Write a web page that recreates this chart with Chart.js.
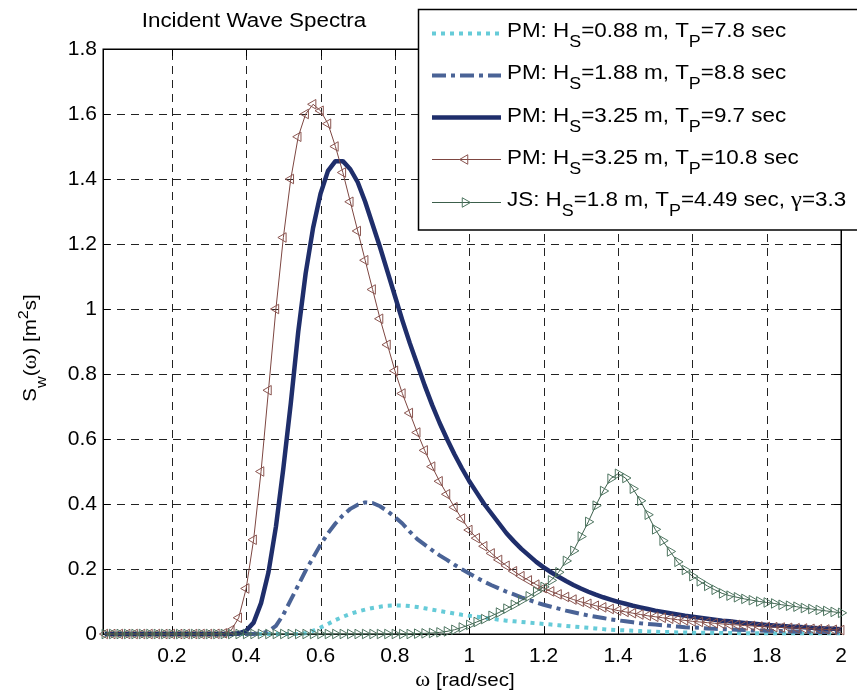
<!DOCTYPE html>
<html><head><meta charset="utf-8">
<script src="https://cdn.jsdelivr.net/npm/chart.js@4.4.1/dist/chart.umd.min.js"></script>
<style>html,body{margin:0;padding:0;background:#fff;}canvas{display:block;}</style>
</head><body>
<canvas id="c" width="857" height="700"></canvas>
<script>
// ---------- data ----------
const omega = [
 0.02,0.04,0.06,0.08,0.10,0.12,0.14,0.16,0.18,0.20,
 0.22,0.24,0.26,0.28,0.30,0.32,0.34,0.36,0.38,0.40,
 0.42,0.44,0.46,0.48,0.50,0.52,0.54,0.56,0.58,0.60,
 0.62,0.64,0.66,0.68,0.70,0.72,0.74,0.76,0.78,0.80,
 0.82,0.84,0.86,0.88,0.90,0.92,0.94,0.96,0.98,1.00,
 1.02,1.04,1.06,1.08,1.10,1.12,1.14,1.16,1.18,1.20,
 1.22,1.24,1.26,1.28,1.30,1.32,1.34,1.36,1.38,1.40,
 1.42,1.44,1.46,1.48,1.50,1.52,1.54,1.56,1.58,1.60,
 1.62,1.64,1.66,1.68,1.70,1.72,1.74,1.76,1.78,1.80,
 1.82,1.84,1.86,1.88,1.90,1.92,1.94,1.96,1.98,2.00];

const pmHs088 = [
 0,0,0,0,0,0,0,0,0,0,
 0,0,0,0,0,0,0,0,0,0,
 0,0,0,0,0,0,0,0.002,0.01,0.02,
 0.031,0.043,0.053,0.062,0.069,0.075,0.08,0.084,0.087,0.088,
 0.088,0.086,0.083,0.079,0.075,0.071,0.067,0.063,0.059,0.056,
 0.053,0.05,0.047,0.044,0.041,0.039,0.037,0.035,0.033,0.031,
 0.029,0.027,0.025,0.023,0.021,0.019,0.017,0.015,0.013,0.012,
 0.011,0.01,0.009,0.008,0.007,0.006,0.006,0.005,0.005,0.004,
 0.004,0.004,0.003,0.003,0.003,0.003,0.002,0.002,0.002,0.002,
 0.002,0.002,0.002,0.002,0.002,0.002,0.002,0.002,0.002,0.002];

const pmHs188 = [
 0,0,0,0,0,0,0,0,0,0,
 0,0,0,0,0,0,0,0,0,0,
 0,0.002,0.008,0.025,0.06,0.105,0.15,0.195,0.235,0.275,
 0.31,0.34,0.365,0.385,0.398,0.405,0.403,0.393,0.378,0.36,
 0.34,0.315,0.292,0.275,0.258,0.242,0.228,0.213,0.199,0.186,
 0.173,0.161,0.15,0.14,0.13,0.122,0.113,0.105,0.097,0.09,
 0.084,0.078,0.072,0.067,0.062,0.057,0.053,0.049,0.045,0.042,
 0.039,0.036,0.033,0.031,0.029,0.027,0.025,0.023,0.021,0.02,
 0.019,0.017,0.016,0.015,0.014,0.013,0.012,0.011,0.011,0.01,
 0.009,0.009,0.008,0.008,0.007,0.007,0.006,0.006,0.005,0.005];

const pmHs325Tp97 = [
 0,0,0,0,0,0,0,0,0,0,
 0,0,0,0,0,0,0,0,0.002,0.01,
 0.035,0.095,0.19,0.33,0.51,0.71,0.93,1.11,1.25,1.355,
 1.425,1.455,1.455,1.43,1.39,1.33,1.26,1.19,1.115,1.04,
 0.965,0.895,0.83,0.765,0.705,0.65,0.6,0.553,0.51,0.47,
 0.435,0.4,0.37,0.34,0.31,0.285,0.262,0.242,0.222,0.205,
 0.19,0.176,0.163,0.151,0.14,0.13,0.121,0.113,0.106,0.099,
 0.093,0.087,0.082,0.077,0.072,0.068,0.064,0.06,0.056,0.053,
 0.05,0.047,0.044,0.041,0.039,0.036,0.034,0.032,0.03,0.028,
 0.026,0.025,0.023,0.022,0.021,0.019,0.018,0.017,0.016,0.015];

const pmHs325Tp108 = [
 0,0,0,0,0,0,0,0,0,0,
 0,0,0,0,0,0.0005,0.002,0.012,0.05,0.14,
 0.29,0.5,0.75,1.0,1.22,1.4,1.53,1.6,1.63,1.61,
 1.57,1.5,1.42,1.33,1.24,1.15,1.06,0.97,0.89,0.81,
 0.74,0.68,0.62,0.565,0.515,0.47,0.43,0.39,0.355,0.32,
 0.295,0.27,0.248,0.228,0.21,0.193,0.178,0.165,0.152,0.141,
 0.131,0.122,0.114,0.106,0.099,0.093,0.087,0.082,0.077,0.072,
 0.068,0.064,0.06,0.056,0.053,0.05,0.047,0.044,0.042,0.039,
 0.037,0.035,0.033,0.031,0.029,0.028,0.026,0.025,0.023,0.022,
 0.021,0.02,0.019,0.018,0.017,0.016,0.015,0.014,0.013,0.012];

const jsHs18 = [
 0,0,0,0,0,0,0,0,0,0,
 0,0,0,0,0,0,0,0,0,0,
 0,0,0,0,0,0,0,0,0,0,
 0,0,0,0,0,0,0,0,0,0,
 0,0,0.001,0.002,0.003,0.005,0.008,0.013,0.02,0.028,
 0.037,0.046,0.056,0.066,0.078,0.09,0.103,0.116,0.13,0.145,
 0.165,0.19,0.225,0.256,0.3,0.345,0.395,0.44,0.478,0.493,
 0.48,0.447,0.41,0.367,0.322,0.287,0.254,0.222,0.197,0.178,
 0.162,0.148,0.136,0.125,0.118,0.113,0.108,0.104,0.1,0.097,
 0.094,0.09,0.087,0.084,0.08,0.077,0.074,0.071,0.068,0.065];

const seriesLabels = [
 'PM: H_S=0.88 m, T_P=7.8 sec',
 'PM: H_S=1.88 m, T_P=8.8 sec',
 'PM: H_S=3.25 m, T_P=9.7 sec',
 'PM: H_S=3.25 m, T_P=10.8 sec',
 'JS: H_S=1.8 m, T_P=4.49 sec, γ=3.3'];

const xTickVals = [0.2,0.4,0.6,0.8,1,1.2,1.4,1.6,1.8,2];
const xTickLabels = ['0.2','0.4','0.6','0.8','1','1.2','1.4','1.6','1.8','2'];
const yTickVals = [0,0.2,0.4,0.6,0.8,1,1.2,1.4,1.6,1.8];
const yTickLabels = ['0','0.2','0.4','0.6','0.8','1','1.2','1.4','1.6','1.8'];

const chartTitle = 'Incident Wave Spectra';
const xTitle = 'ω [rad/sec]';
const yTitle = 'S_w(ω) [m^2s]';

// ---------- styles ----------
const SANS = "'Liberation Sans', Arial, sans-serif";
const SERIF = "'Liberation Serif', 'Times New Roman', serif";
const styles = [
 {color:'#66cbd8', width:4, dash:[4,5]},
 {color:'#4a6396', width:4, dash:[14,5,4,5]},
 {color:'#1f2e6b', width:4.5, dash:[]},
 {color:'#7d4641', width:1, dash:[], marker:true, rot:-90, mcolor:'#8a5550'},
 {color:'#3c5f4b', width:1, dash:[], marker:true, rot:90, mcolor:'#4e7560'}
];
const seriesData = [pmHs088, pmHs188, pmHs325Tp97, pmHs325Tp108, jsHs18];
const MARK_R = 5.5;

const datasets = seriesData.map((arr, i) => {
  const s = styles[i];
  return {
    label: seriesLabels[i],
    data: omega.map((x, j) => ({x: x, y: arr[j]})),
    borderColor: s.color,
    borderWidth: s.width,
    borderDash: s.dash,
    borderCapStyle: 'butt',
    borderJoinStyle: 'round',
    fill: false,
    tension: 0,
    clip: false,
    order: 5 - i,
    pointRadius: s.marker ? MARK_R : 0,
    pointStyle: 'triangle',
    pointRotation: s.rot || 0,
    pointBorderColor: s.mcolor || s.color,
    pointBackgroundColor: 'rgba(255,255,255,0)',
    pointBorderWidth: 1,
    pointHoverRadius: s.marker ? MARK_R : 0
  };
});

// ---------- rich text helper (sub/superscripts) ----------
function parseRich(str) {
  const segs = [];
  let i = 0;
  while (i < str.length) {
    const c = str[i];
    if ((c === '_' || c === '^') && i + 1 < str.length) {
      segs.push({t: str[i+1], mode: c === '_' ? 'sub' : 'sup'});
      i += 2;
    } else {
      segs.push({t: c, mode: 'n'});
      i += 1;
    }
  }
  const out = [];
  segs.forEach(s => {
    s.greek = /[ωγ]/.test(s.t);
    const last = out[out.length-1];
    if (last && last.mode === s.mode && last.greek === s.greek) last.t += s.t;
    else out.push(Object.assign({}, s));
  });
  return out;
}
function setFont(ctx, seg, size) {
  let sz = seg.mode === 'n' ? size : Math.round(size * 0.78);
  if (seg.greek) sz = Math.round(sz * 1.1);
  ctx.font = sz + 'px ' + (seg.greek ? SERIF : SANS);
}
function drawRich(ctx, str, x, y, size, align, stretch) {
  const segs = parseRich(str);
  let w = 0;
  segs.forEach(s => { setFont(ctx, s, size); s.w = ctx.measureText(s.t).width; w += s.w; });
  const total = w * stretch;
  let sx = x;
  if (align === 'center') sx = x - total / 2;
  else if (align === 'right') sx = x - total;
  ctx.save();
  ctx.translate(sx, y);
  ctx.scale(stretch, 1);
  ctx.textBaseline = 'alphabetic';
  ctx.textAlign = 'left';
  ctx.fillStyle = '#000';
  let cx = 0;
  segs.forEach(s => {
    setFont(ctx, s, size);
    let dy = 0;
    if (s.mode === 'sub') dy = size * 0.5;
    if (s.mode === 'sup') dy = -size * 0.42;
    ctx.fillText(s.t, cx, dy);
    cx += s.w;
  });
  ctx.restore();
}

// ---------- decorations plugin ----------
const decor = {
  id: 'decor',
  beforeDatasetsDraw(chart) {
    const ctx = chart.ctx, a = chart.chartArea;
    const xs = chart.scales.x, ys = chart.scales.y;
    ctx.save();
    ctx.strokeStyle = '#222';
    ctx.lineWidth = 1;
    ctx.setLineDash([8, 6]);
    xTickVals.forEach(v => {
      const px = Math.round(xs.getPixelForValue(v)) + 0.5;
      ctx.beginPath(); ctx.moveTo(px, a.bottom); ctx.lineTo(px, a.top); ctx.stroke();
    });
    yTickVals.forEach(v => {
      const py = Math.round(ys.getPixelForValue(v)) + 0.5;
      ctx.beginPath(); ctx.moveTo(a.left, py); ctx.lineTo(a.right, py); ctx.stroke();
    });
    ctx.setLineDash([]);
    ctx.strokeStyle = '#000';
    ctx.lineWidth = 1;
    const tl = 7;
    xTickVals.forEach(v => {
      const px = Math.round(xs.getPixelForValue(v)) + 0.5;
      ctx.beginPath(); ctx.moveTo(px, a.bottom); ctx.lineTo(px, a.bottom - tl); ctx.stroke();
      ctx.beginPath(); ctx.moveTo(px, a.top); ctx.lineTo(px, a.top + tl); ctx.stroke();
    });
    yTickVals.forEach(v => {
      const py = Math.round(ys.getPixelForValue(v)) + 0.5;
      ctx.beginPath(); ctx.moveTo(a.left, py); ctx.lineTo(a.left + tl, py); ctx.stroke();
      ctx.beginPath(); ctx.moveTo(a.right, py); ctx.lineTo(a.right - tl, py); ctx.stroke();
    });
    ctx.lineWidth = 1.5;
    ctx.strokeStyle = '#000';
    ctx.strokeRect(Math.round(a.left) + 0.25, Math.round(a.top) + 0.25, Math.round(a.right - a.left), Math.round(a.bottom - a.top));
    ctx.restore();
  },
  afterDatasetsDraw(chart) {
    const ctx = chart.ctx;
    ctx.save();
    drawRich(ctx, chartTitle, 254, 27, 20, 'center', 1.12);
    drawRich(ctx, xTitle, 465, 686, 19, 'center', 1.08);
    ctx.save();
    ctx.translate(36, 348);
    ctx.rotate(-Math.PI / 2);
    drawRich(ctx, yTitle, 0, 0, 19, 'center', 1.08);
    ctx.restore();
    ctx.fillStyle = '#fff';
    ctx.fillRect(418.5, 9.5, 460, 220.5);
    ctx.strokeStyle = '#000';
    ctx.lineWidth = 1.5;
    ctx.strokeRect(418.5, 9.5, 460, 220.5);
    const baseY = 37, step = 42.3;
    seriesLabels.forEach((lab, i) => {
      const s = styles[i];
      const by = baseY + i * step;
      const ly = Math.round(by - 4.5) + 0.5;
      ctx.save();
      ctx.strokeStyle = s.color;
      ctx.lineWidth = s.width;
      ctx.lineCap = 'butt';
      ctx.setLineDash(s.dash);
      ctx.beginPath(); ctx.moveTo(432, ly); ctx.lineTo(501, ly); ctx.stroke();
      ctx.restore();
      if (s.marker) {
        ctx.save();
        ctx.strokeStyle = s.mcolor;
        ctx.fillStyle = 'rgba(255,255,255,0)';
        ctx.lineWidth = 1;
        Chart.helpers.drawPoint(ctx, {pointStyle: 'triangle', rotation: s.rot, radius: MARK_R, borderWidth: 1}, 465, ly);
        ctx.restore();
      }
      drawRich(ctx, lab, 507, by, 20, 'left', 1.12);
    });
    ctx.restore();
  }
};

Chart.defaults.font.family = SANS;
Chart.defaults.color = '#000';

new Chart(document.getElementById('c'), {
  type: 'line',
  data: { datasets: datasets },
  options: {
    responsive: false,
    animation: false,
    layout: { padding: { top: 49, right: 8, left: 0, bottom: 0 } },
    plugins: { legend: { display: false }, tooltip: { enabled: false }, title: { display: false } },
    events: [],
    scales: {
      x: {
        type: 'linear', min: 0.015, max: 2,
        grid: { display: false, drawTicks: false },
        border: { display: false },
        afterBuildTicks: s => { s.ticks = xTickVals.map(v => ({value: v})); },
        afterFit: s => { s.height = 66; },
        ticks: {
          autoSkip: false, maxRotation: 0, minRotation: 0, padding: 10,
          font: { size: 21 }, color: '#000',
          callback: (v) => xTickLabels[xTickVals.indexOf(v)]
        }
      },
      y: {
        type: 'linear', min: 0, max: 1.8,
        grid: { display: false, drawTicks: false },
        border: { display: false },
        afterBuildTicks: s => { s.ticks = yTickVals.map(v => ({value: v})); },
        afterFit: s => { s.width = 103; },
        ticks: {
          autoSkip: false, padding: 6,
          font: { size: 21 }, color: '#000',
          callback: (v) => yTickLabels[yTickVals.indexOf(v)]
        }
      }
    }
  },
  plugins: [decor]
});
</script>
</body></html>
